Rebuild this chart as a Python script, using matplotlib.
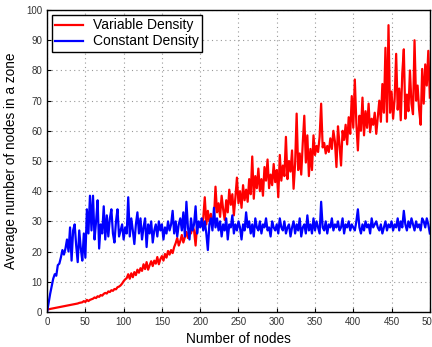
import numpy as np
import matplotlib.pyplot as plt

plt.rcParams['font.family'] = ['Liberation Sans', 'DejaVu Sans']

# number of nodes, every 2 nodes from 0 to 500
nodes = np.arange(0, 501, 2)

variable_density = [
    0.8, 0.9, 1.0, 1.1, 1.2, 1.3, 1.4, 1.5, 1.6, 1.7, 1.8, 1.9, 2.0, 2.1, 2.2, 2.3, 2.4, 2.5, 2.6, 2.7, 2.8, 3.0, 3.1, 3.2, 3.6,
    3.3, 4.0, 3.6, 4.0, 4.2, 4.4, 4.8, 4.6, 5.2, 5.0, 5.6, 5.4, 6.0, 6.3, 6.1, 6.8, 6.6, 7.2, 7.0, 7.6, 7.5, 8.2, 8.4, 8.8, 9.4,
    10.2, 10.8, 11.2, 12.5, 11.0, 12.8, 11.5, 13.2, 12.2, 14.0, 13.0, 14.5, 13.6, 15.8, 14.2, 16.5, 14.0, 15.5, 16.8, 15.2, 17.0, 16.0, 18.2, 15.8, 17.5,
    18.5, 17.0, 19.2, 18.0, 20.2, 19.0, 20.5, 19.5, 21.5, 22.8, 24.5, 22.0, 23.5, 25.5, 23.0, 24.8, 26.5, 24.5, 27.5, 26.0, 28.5, 27.0, 22.0, 29.0, 28.5,
    29.5, 28.5, 31.0, 38.0, 29.0, 33.5, 30.0, 32.5, 28.5, 31.0, 41.5, 33.0, 36.0, 31.5, 38.5, 34.0, 30.5, 37.0, 33.0, 40.5, 35.5, 39.0, 32.0, 38.0, 44.5,
    36.0, 40.0, 34.5, 42.0, 37.0, 40.5, 36.5, 44.0, 39.0, 51.5, 37.5, 45.0, 41.0, 47.5, 40.0, 44.0, 38.5, 48.0, 43.5, 50.5, 41.0, 45.5, 42.0, 49.0, 43.0,
    47.0, 38.0, 52.0, 43.5, 48.5, 45.0, 58.0, 44.0, 50.0, 46.5, 53.5, 40.8, 49.0, 65.7, 47.0, 52.5, 45.5, 56.0, 65.0, 49.5, 58.5, 45.0, 54.0, 47.0, 58.5,
    52.0, 55.0, 53.0, 58.0, 69.0, 54.5, 56.0, 52.5, 55.0, 53.0, 57.5, 54.0, 60.0, 56.5, 48.0, 61.5, 55.5, 48.5, 60.0, 57.0, 62.0, 55.5, 64.5, 59.0, 71.5,
    61.0, 77.0, 62.5, 53.5, 65.0, 60.0, 71.0, 58.5, 66.5, 61.0, 69.0, 59.5, 64.0, 62.0, 66.0, 59.0, 64.5, 70.0, 63.0, 75.5, 66.0, 87.5, 63.0, 95.0, 66.0,
    73.0, 64.0, 70.5, 85.5, 67.0, 74.0, 63.5, 79.0, 87.0, 64.0, 72.0, 66.5, 80.0, 69.0, 65.5, 90.0, 70.0, 75.0, 67.0, 62.0, 80.5, 69.0, 82.0, 75.0, 86.5, 71.0,
]

constant_density = [
    0, 3, 6, 8.5, 11, 12.5, 12, 15.5, 16, 18, 20.5, 19, 21, 24, 20, 28, 17, 27, 29, 22, 16.5, 27, 21, 17, 26,
    18, 34, 26, 38.5, 27, 38.5, 24, 30, 37, 21, 29, 26, 35, 24, 32, 25, 31, 34, 26, 23, 30, 34, 25, 27, 29,
    24, 28, 26, 38, 25, 31, 27, 22.5, 29, 33, 26, 31, 24, 28, 31, 21.5, 29, 26, 30, 23, 27, 29, 25, 30, 27,
    29, 24, 28, 26, 30, 27, 29, 33.5, 26, 30, 25, 29, 31, 27, 33, 25, 36.5, 28, 24, 31, 27, 29, 35, 26, 30,
    28, 31, 27, 30, 26, 20.5, 29, 31, 27, 34.5, 28, 31, 27, 30, 25, 29, 27, 31, 24, 29, 28, 32, 26, 29, 27,
    30, 28, 24, 29, 27, 33, 28, 30, 26, 29, 25, 31, 28, 27, 30, 26, 29, 28, 31, 27, 28, 25, 30, 28, 27,
    29, 26, 31, 28, 27, 30, 26, 28, 29, 25, 28, 30, 26, 29, 27, 31, 25, 28, 29, 26, 32, 27, 29, 26, 31,
    27, 30, 28, 26, 36.5, 28, 27, 30, 26, 29, 28, 31, 27, 29, 28, 30, 27, 28, 31, 26, 29, 28, 30, 27, 29,
    28, 27, 30, 34, 28, 26, 29, 27, 30, 28, 29, 26, 31, 28, 29, 30, 28, 27, 29, 26, 28, 30, 27, 29, 28,
    30, 27, 29, 28, 31, 27, 30, 28, 33.5, 29, 27, 30, 28, 31, 29, 27, 30, 28, 29, 27, 31, 30, 28, 31, 29, 26,
]

fig = plt.figure(figsize=(4.32, 3.47), dpi=100)
ax = fig.add_axes([0.109, 0.101, 0.886, 0.870])

ax.plot(nodes, variable_density, color='red', lw=1.6, label='Variable Density')
ax.plot(nodes, constant_density, color='blue', lw=1.6, label='Constant Density')

ax.set_xlim(0, 500)
ax.set_ylim(0, 100)
ax.set_xticks(np.arange(0, 501, 50))
ax.set_yticks(np.arange(0, 101, 10))
ax.tick_params(direction='in', labelsize=7, length=3, labelcolor='#333333')
ax.grid(True, linestyle=(0, (1, 3)), color='#999999', lw=0.8)
for s in ax.spines.values():
    s.set_linewidth(1.0)

ax.set_xlabel('Number of nodes', fontsize=9.8, labelpad=4)
ax.set_ylabel('Average number of nodes in a zone', fontsize=9.8, labelpad=6)

leg = ax.legend(loc='upper left', fontsize=10, fancybox=False, edgecolor='black',
                framealpha=1, borderaxespad=0.35, handlelength=2.0, borderpad=0.25,
                labelspacing=0.15, handletextpad=0.7)
leg.get_frame().set_linewidth(1.0)

fig.savefig('out.png', dpi=100)
